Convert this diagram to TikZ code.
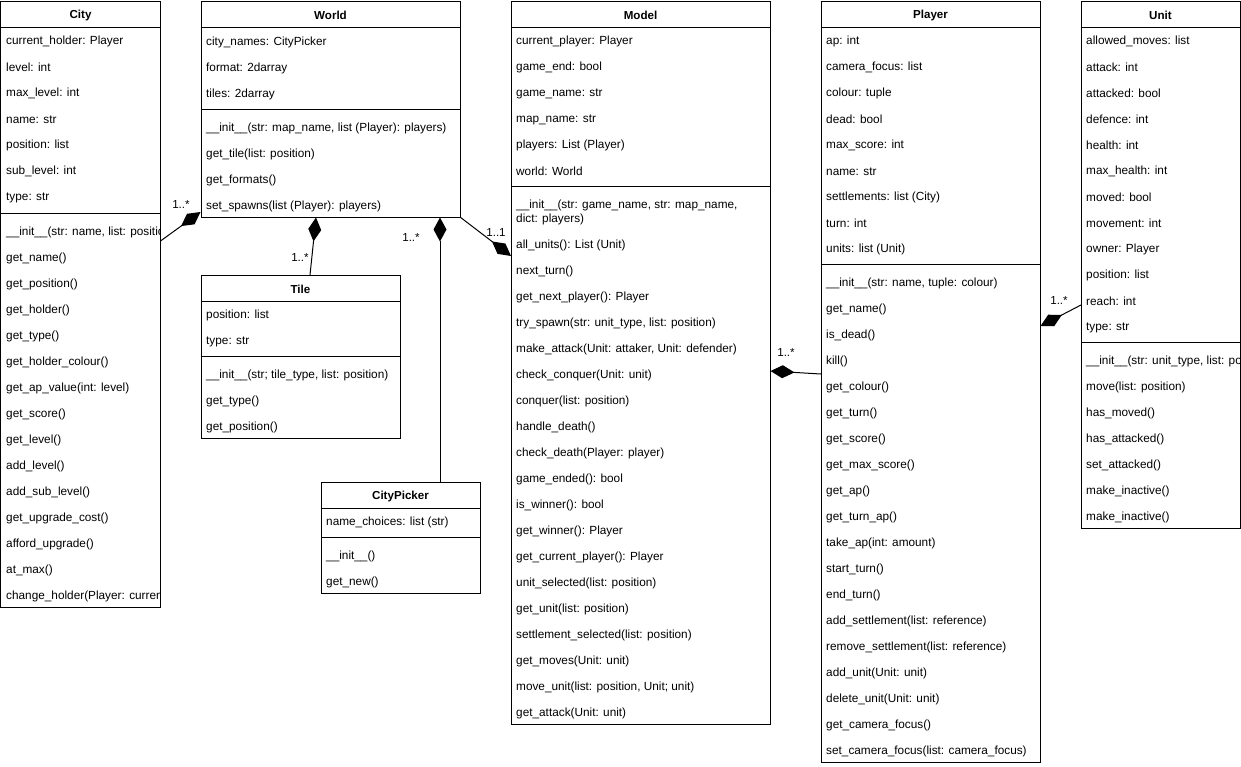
\documentclass[tikz,border=0pt]{standalone}
\usepackage{fontspec}
\setmainfont{Liberation Sans}
\usetikzlibrary{arrows.meta}
\tikzset{
  classbox/.style={draw=black, line width=1pt, fill=white, anchor=north west, inner sep=0pt, outer sep=0pt},
  ctitle/.style={font=\fontsize{11.6}{13}\selectfont\bfseries, inner sep=0pt, yshift=-1.5pt},
  row/.style={font=\fontsize{11.8}{13}\selectfont, anchor=west, inner sep=0pt, yshift=-1.5pt},
  mult/.style={font=\fontsize{11.6}{13}\selectfont, inner sep=0pt, yshift=-1pt},
  sepline/.style={line width=1pt},
  comp/.style={line width=1pt, -{Diamond[length=24pt,width=13pt,line width=0pt]}},
}
\begin{document}
\begin{tikzpicture}[x=1pt,y=-1pt]
\useasboundingbox (0,0) rectangle (1241,766);
\fill[white] (0,0) rectangle (1241,766);

% ---------- City ----------
\node[classbox, minimum width=160pt, minimum height=606pt] (City) at (0.5,1) {};
\node[ctitle] (City-t) at (80.5,14) {City};
\draw[sepline] (0.5,27) -- (160.5,27);
\draw[sepline] (0.5,213) -- (160.5,213);
\begin{scope}
\clip (0.5,1) rectangle (159.5,607);
\foreach \t [count=\i] in {current\_holder: Player, level: int, max\_level: int, name: str, position: list, sub\_level: int, type: str}
  \node[row] (City-a\i) at (6,{40+26*(\i-1)}) {\t};
\foreach \t [count=\i] in {{\_\_init\_\_(str: name, list: position)}, get\_name(), get\_position(), get\_holder(), get\_type(), get\_holder\_colour(), get\_ap\_value(int: level), get\_score(), get\_level(), add\_level(), add\_sub\_level(), get\_upgrade\_cost(), afford\_upgrade(), at\_max(), {change\_holder(Player: current\_holder)}}
  \node[row] (City-m\i) at (6,{231+26*(\i-1)}) {\t};
\end{scope}

% ---------- World ----------
\node[classbox, minimum width=259pt, minimum height=216pt] (World) at (201,1) {};
\node[ctitle] (World-t) at (330.5,14) {World};
\draw[sepline] (201,27) -- (460,27);
\draw[sepline] (201,109) -- (460,109);
\foreach \t [count=\i] in {city\_names: CityPicker, format: 2darray, tiles: 2darray}
  \node[row] (World-a\i) at (206,{41+26*(\i-1)}) {\t};
\foreach \t [count=\i] in {{\_\_init\_\_(str: map\_name, list (Player): players)}, get\_tile(list: position), get\_formats(), set\_spawns(list (Player): players)}
  \node[row] (World-m\i) at (206,{127+26*(\i-1)}) {\t};

% ---------- Tile ----------
\node[classbox, minimum width=199pt, minimum height=163pt] (Tile) at (201,275) {};
\node[ctitle] (Tile-t) at (300.5,288) {Tile};
\draw[sepline] (201,301) -- (400,301);
\draw[sepline] (201,356) -- (400,356);
\foreach \t [count=\i] in {position: list, type: str}
  \node[row] (Tile-a\i) at (206,{314+26*(\i-1)}) {\t};
\foreach \t [count=\i] in {{\_\_init\_\_(str; tile\_type, list: position)}, get\_type(), get\_position()}
  \node[row] (Tile-m\i) at (206,{374+26*(\i-1)}) {\t};

% ---------- CityPicker ----------
\node[classbox, minimum width=159pt, minimum height=111pt] (CityPicker) at (321,482) {};
\node[ctitle] (CityPicker-t) at (400.5,495) {CityPicker};
\draw[sepline] (321,508) -- (480,508);
\draw[sepline] (321,537) -- (480,537);
\node[row] (CityPicker-a1) at (326,521) {name\_choices: list (str)};
\node[row] (CityPicker-m1) at (326,555) {\_\_init\_\_()};
\node[row] (CityPicker-m2) at (326,581) {get\_new()};

% ---------- Model ----------
\node[classbox, minimum width=259pt, minimum height=723pt] (Model) at (511,1) {};
\node[ctitle] (Model-t) at (640.5,14) {Model};
\draw[sepline] (511,27) -- (770,27);
\draw[sepline] (511,186) -- (770,186);
\foreach \t [count=\i] in {current\_player: Player, game\_end: bool, game\_name: str, map\_name: str, players: List (Player), world: World}
  \node[row] (Model-a\i) at (516,{40+26*(\i-1)}) {\t};
\node[row] (Model-i1) at (516,204) {\_\_init\_\_(str: game\_name, str: map\_name,};
\node[row] (Model-i2) at (516,218) {dict: players)};
\foreach \t [count=\i] in {all\_units(): List (Unit), next\_turn(), get\_next\_player(): Player, {try\_spawn(str: unit\_type, list: position)}, {make\_attack(Unit: attaker, Unit: defender)}, check\_conquer(Unit: unit), conquer(list: position), handle\_death(), check\_death(Player: player), game\_ended(): bool, is\_winner(): bool, get\_winner(): Player, get\_current\_player(): Player, unit\_selected(list: position), get\_unit(list: position), settlement\_selected(list: position), get\_moves(Unit: unit), {move\_unit(list: position, Unit; unit)}, get\_attack(Unit: unit)}
  \node[row] (Model-m\i) at (516,{244+26*(\i-1)}) {\t};

% ---------- Player ----------
\node[classbox, minimum width=219pt, minimum height=761pt] (Player) at (821,1) {};
\node[ctitle] (Player-t) at (930.5,14) {Player};
\draw[sepline] (821,27) -- (1040,27);
\draw[sepline] (821,264) -- (1040,264);
\foreach \t [count=\i] in {ap: int, camera\_focus: list, colour: tuple, dead: bool, max\_score: int, name: str, settlements: list (City), turn: int, units: list (Unit)}
  \node[row] (Player-a\i) at (826,{40+26*(\i-1)}) {\t};
\foreach \t [count=\i] in {{\_\_init\_\_(str: name, tuple: colour)}, get\_name(), is\_dead(), kill(), get\_colour(), get\_turn(), get\_score(), get\_max\_score(), get\_ap(), get\_turn\_ap(), take\_ap(int: amount), start\_turn(), end\_turn(), add\_settlement(list: reference), remove\_settlement(list: reference), add\_unit(Unit: unit), delete\_unit(Unit: unit), get\_camera\_focus(), set\_camera\_focus(list: camera\_focus)}
  \node[row] (Player-m\i) at (826,{282+26*(\i-1)}) {\t};

% ---------- Unit ----------
\node[classbox, minimum width=159pt, minimum height=527pt] (Unit) at (1081,1) {};
\node[ctitle] (Unit-t) at (1160.5,14) {Unit};
\draw[sepline] (1081,27) -- (1240,27);
\draw[sepline] (1081,342) -- (1240,342);
\begin{scope}
\clip (1081,1) rectangle (1239.5,528);
\foreach \t [count=\i] in {allowed\_moves: list, attack: int, attacked: bool, defence: int, health: int, max\_health: int, moved: bool, movement: int, owner: Player, position: list, reach: int, type: str}
  \node[row] (Unit-a\i) at (1086,{40+26*(\i-1)}) {\t};
\foreach \t [count=\i] in {{\_\_init\_\_(str: unit\_type, list: position)}, move(list: position), has\_moved(), has\_attacked(), set\_attacked(), make\_inactive(), make\_inactive()}
  \node[row] (Unit-m\i) at (1086,{360+26*(\i-1)}) {\t};
\end{scope}

% ---------- connection points ----------
\coordinate (cw-c) at (City.east |- 0,241);
\coordinate (cw-w) at (200.5,212);
\coordinate (wt-w) at (316,217.5);
\coordinate (wt-t) at (310,275);
\coordinate (wp-w) at (440,217.5);
\coordinate (wp-p) at (CityPicker.north -| 440,0);
\coordinate (wm-m) at (511,256);
\coordinate (mp-m) at (770.5,371);
\coordinate (mp-p) at (821,374);
\coordinate (pu-p) at (1040.5,326);
\coordinate (pu-u) at (1081,305);

% ---------- connectors ----------
\draw[comp] (cw-c) -- (cw-w);
\draw[comp] (wt-t) -- (wt-w);
\draw[comp] (wp-p) -- (wp-w);
\draw[comp] (World.south east) -- (wm-m);
\draw[comp] (mp-p) -- (mp-m);
\draw[comp] (pu-u) -- (pu-p);

% ---------- multiplicities ----------
\node[mult] (l1) at (181,204) {1..*};
\node[mult] (l2) at (300,257) {1..*};
\node[mult] (l3) at (411,237) {1..*};
\node[mult] (l4) at (496,232) {1..1};
\node[mult] (l5) at (786,352) {1..*};
\node[mult] (l6) at (1059,300) {1..*};
\end{tikzpicture}
\end{document}
